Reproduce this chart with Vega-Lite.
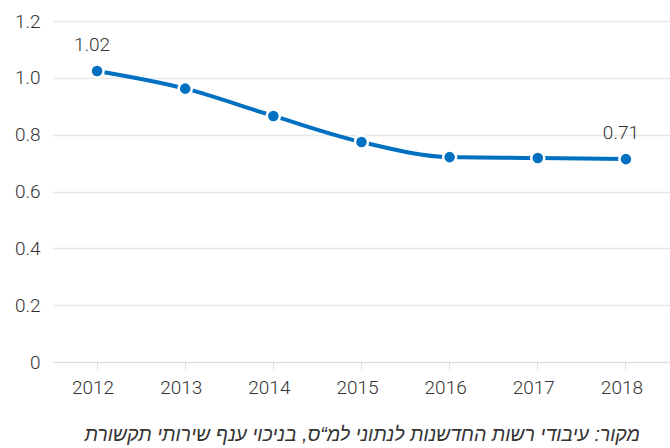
{
  "$schema": "https://vega.github.io/schema/vega-lite/v6.json",
  "width": 617,
  "height": 341,
  "autosize": {"type": "none"},
  "padding": {"left": 53, "top": 21, "right": 0, "bottom": 86},
  "background": "white",
  "config": {
    "view": {"stroke": null},
    "font": "Roboto"
  },
  "title": {
    "text": "מקור: עיבודי רשות החדשנות לנתוני למ“ס, בניכוי ענף שירותי תקשורת",
    "orient": "bottom",
    "anchor": "end",
    "font": "Liberation Sans",
    "fontSize": 19.5,
    "fontWeight": "normal",
    "fontStyle": "italic",
    "color": "#333333",
    "offset": 29,
    "dx": -30
  },
  "data": {
    "values": [
      {"year": "2012", "value": 1.024, "label": "1.02"},
      {"year": "2013", "value": 0.962, "label": ""},
      {"year": "2014", "value": 0.866, "label": ""},
      {"year": "2015", "value": 0.774, "label": ""},
      {"year": "2016", "value": 0.721, "label": ""},
      {"year": "2017", "value": 0.718, "label": ""},
      {"year": "2018", "value": 0.714, "label": "0.71"}
    ]
  },
  "encoding": {
    "x": {
      "field": "year",
      "type": "ordinal",
      "scale": {"type": "band", "paddingInner": 0, "paddingOuter": 0},
      "axis": {
        "title": null,
        "labelAngle": 0,
        "labelFontSize": 19,
        "labelFontWeight": 300,
        "labelColor": "#333333",
        "domainColor": "#dddddd",
        "tickColor": "#dddddd",
        "tickSize": 8,
        "labelPadding": 8,
        "labelOffset": -4,
        "grid": false
      }
    },
    "y": {
      "field": "value",
      "type": "quantitative",
      "scale": {"domain": [0, 1.2]},
      "axis": {
        "title": null,
        "values": [0, 0.2, 0.4, 0.6, 0.8, 1.0, 1.2],
        "labelExpr": "datum.value == 0 ? '0' : format(datum.value, '.1f')",
        "labelFontSize": 19,
        "labelFontWeight": 300,
        "labelColor": "#333333",
        "domain": false,
        "ticks": false,
        "labelPadding": 13,
        "gridColor": "#e6e6e6",
        "gridWidth": 1.5
      }
    }
  },
  "layer": [
    {
      "mark": {"type": "line", "color": "#0070c0", "strokeWidth": 4, "interpolate": "monotone"}
    },
    {
      "mark": {"type": "point", "filled": true, "fill": "#0070c0", "stroke": "white", "strokeWidth": 2.5, "size": 170, "opacity": 1}
    },
    {
      "mark": {"type": "text", "dy": -26, "dx": -5, "fontSize": 19, "fontWeight": 300, "color": "#333333"},
      "encoding": {"text": {"field": "label"}}
    }
  ]
}
